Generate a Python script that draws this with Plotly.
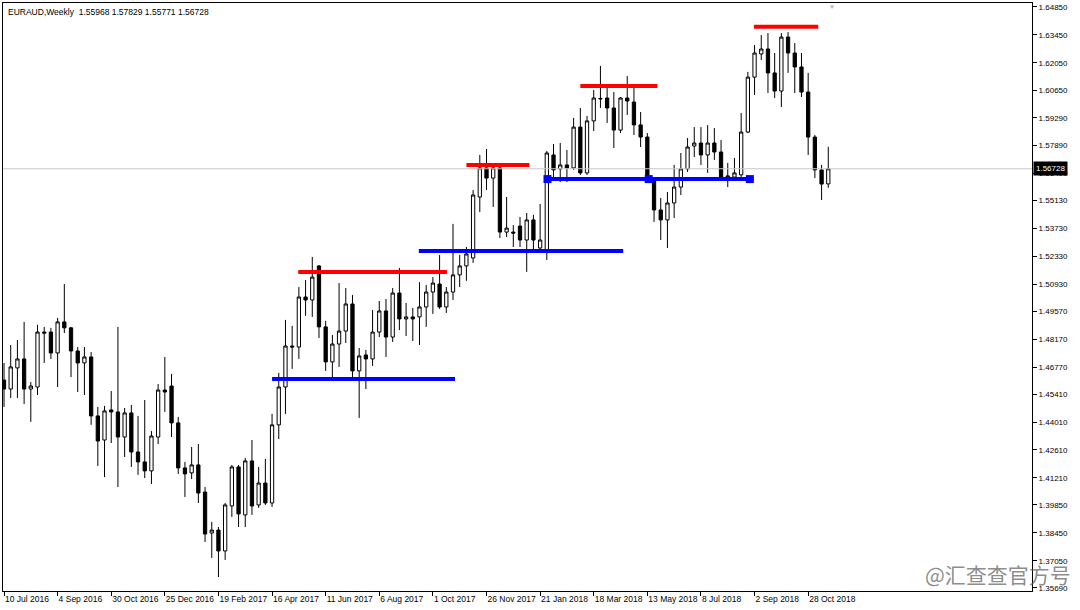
import plotly.graph_objects as go
import pandas as pd

# ---------------- data ----------------
first_week = "2016-07-10"
n_weeks = 124
week_dates = list(pd.date_range(first_week, periods=n_weeks, freq="7D"))

opens = [1.4612, 1.4567, 1.4673, 1.4718, 1.4567, 1.4577, 1.4853, 1.4853, 1.4748, 1.4904,
         1.4874, 1.4758, 1.4698, 1.4728, 1.4432, 1.4311, 1.4462, 1.4452, 1.4326, 1.4447,
         1.4251, 1.4201, 1.4156, 1.4326, 1.4562, 1.4582, 1.4397, 1.4171, 1.4146, 1.4186,
         1.4050, 1.3844, 1.3859, 1.3754, 1.3980, 1.4176, 1.3935, 1.4206, 1.3985, 1.4095,
         1.3995, 1.4387, 1.4577, 1.4783, 1.4778, 1.5029, 1.5014, 1.5185, 1.4879, 1.4703,
         1.4793, 1.4858, 1.4994, 1.4658, 1.4738, 1.4718, 1.4853, 1.4959, 1.4828, 1.5049,
         1.4919, 1.4929, 1.4929, 1.4979, 1.5054, 1.5094, 1.4979, 1.5054, 1.5140, 1.5185,
         1.5225, 1.5531, 1.5677, 1.5626, 1.5677, 1.5355, 1.5355, 1.5385, 1.5315, 1.5416,
         1.5275, 1.5265, 1.5742, 1.5672, 1.5692, 1.5677, 1.5882, 1.5652, 1.5913, 1.6026,
         1.6028, 1.5978, 1.5867, 1.6028, 1.6008, 1.5893, 1.5832, 1.5626, 1.5466, 1.5416,
         1.5501, 1.5581, 1.5672, 1.5787, 1.5802, 1.5742, 1.5802, 1.5757, 1.5631, 1.5631,
         1.5642, 1.5857, 1.6133, 1.6249, 1.6274, 1.6154, 1.6063, 1.6334, 1.6254, 1.6184,
         1.6058, 1.5832, 1.5667, 1.55968]
highs = [1.4698, 1.4788, 1.4813, 1.4904, 1.4602, 1.4889, 1.4879, 1.4874, 1.4924, 1.5094,
         1.4879, 1.4778, 1.4778, 1.4753, 1.4477, 1.4482, 1.4557, 1.4879, 1.4472, 1.4487,
         1.4432, 1.4512, 1.4356, 1.4592, 1.4728, 1.4643, 1.4427, 1.4201, 1.4276, 1.4291,
         1.4075, 1.3900, 1.3874, 1.3995, 1.4186, 1.4186, 1.4221, 1.4311, 1.4176, 1.4216,
         1.4442, 1.4648, 1.4914, 1.4884, 1.5079, 1.5114, 1.5230, 1.5190, 1.4909, 1.4838,
         1.5099, 1.5074, 1.5039, 1.4773, 1.4763, 1.4964, 1.5009, 1.5019, 1.5074, 1.5175,
         1.4999, 1.4974, 1.5104, 1.5089, 1.5129, 1.5240, 1.5079, 1.5396, 1.5240, 1.5280,
         1.5566, 1.5742, 1.5772, 1.5692, 1.5692, 1.5531, 1.5390, 1.5431, 1.5451, 1.5441,
         1.5496, 1.5762, 1.5797, 1.5802, 1.5767, 1.5928, 1.5978, 1.5938, 1.6068, 1.6189,
         1.6078, 1.6058, 1.6033, 1.6138, 1.6083, 1.5958, 1.5852, 1.5631, 1.5526, 1.5556,
         1.5692, 1.5752, 1.5827, 1.5882, 1.5882, 1.5892, 1.5877, 1.5817, 1.5702, 1.5727,
         1.5953, 1.6159, 1.6294, 1.6344, 1.6354, 1.6254, 1.6354, 1.6359, 1.6304, 1.6254,
         1.6154, 1.5842, 1.5692, 1.57829]
lows = [1.4477, 1.4522, 1.4522, 1.4492, 1.4402, 1.4537, 1.4698, 1.4718, 1.4577, 1.4848,
        1.4627, 1.4552, 1.4537, 1.4387, 1.4181, 1.4125, 1.4296, 1.4075, 1.4226, 1.4176,
        1.4136, 1.4120, 1.4090, 1.4291, 1.4452, 1.4326, 1.4141, 1.4025, 1.4115, 1.3995,
        1.3799, 1.3719, 1.3623, 1.3709, 1.3925, 1.3874, 1.3874, 1.3935, 1.3970, 1.3985,
        1.3975, 1.4316, 1.4442, 1.4668, 1.4718, 1.4934, 1.4929, 1.4823, 1.4658, 1.4622,
        1.4678, 1.4798, 1.4622, 1.4422, 1.4567, 1.4683, 1.4828, 1.4728, 1.4803, 1.4863,
        1.4833, 1.4808, 1.4788, 1.4879, 1.4944, 1.4969, 1.4949, 1.5014, 1.5079, 1.5110,
        1.5200, 1.5456, 1.5566, 1.5481, 1.5325, 1.5330, 1.5280, 1.5280, 1.5155, 1.5265,
        1.5265, 1.5215, 1.5626, 1.5606, 1.5606, 1.5667, 1.5642, 1.5642, 1.5862, 1.5978,
        1.5903, 1.5777, 1.5852, 1.5943, 1.5842, 1.5782, 1.5606, 1.5406, 1.5315, 1.5275,
        1.5426, 1.5541, 1.5657, 1.5732, 1.5692, 1.5652, 1.5717, 1.5626, 1.5581, 1.5621,
        1.5631, 1.5852, 1.6043, 1.6219, 1.6053, 1.6028, 1.5983, 1.6154, 1.6053, 1.6033,
        1.5742, 1.5626, 1.5516, 1.55771]
closes = [1.4567, 1.4678, 1.4718, 1.4567, 1.4582, 1.4853, 1.4848, 1.4748, 1.4904, 1.4874,
          1.4758, 1.4698, 1.4728, 1.4432, 1.4306, 1.4457, 1.4452, 1.4326, 1.4447, 1.4251,
          1.4201, 1.4156, 1.4331, 1.4562, 1.4552, 1.4397, 1.4171, 1.4141, 1.4186, 1.4045,
          1.3839, 1.3859, 1.3754, 1.3985, 1.4176, 1.3940, 1.4206, 1.3980, 1.4095, 1.3995,
          1.4387, 1.4577, 1.4783, 1.4778, 1.5029, 1.5014, 1.5129, 1.4879, 1.4703, 1.4793,
          1.4858, 1.4994, 1.4658, 1.4733, 1.4718, 1.4853, 1.4959, 1.4828, 1.5049, 1.4919,
          1.4929, 1.4919, 1.4979, 1.5054, 1.5099, 1.4979, 1.5054, 1.5140, 1.5185, 1.5245,
          1.5541, 1.5677, 1.5626, 1.5677, 1.5355, 1.5375, 1.5350, 1.5315, 1.5416, 1.5315,
          1.5315, 1.5752, 1.5667, 1.5692, 1.5677, 1.5882, 1.5652, 1.5913, 1.6028, 1.6024,
          1.5978, 1.5867, 1.6028, 1.6013, 1.5893, 1.5832, 1.5626, 1.5466, 1.5416, 1.5501,
          1.5581, 1.5672, 1.5782, 1.5802, 1.5742, 1.5802, 1.5757, 1.5631, 1.5636, 1.5652,
          1.5857, 1.6133, 1.6254, 1.6274, 1.6154, 1.6063, 1.6334, 1.6254, 1.6184, 1.6058,
          1.5832, 1.5667, 1.5596, 1.56728]

price_ticks = [1.64850, 1.63450, 1.62050, 1.60650, 1.59290, 1.57890, 1.56490, 1.55130,
               1.53730, 1.52330, 1.50930, 1.49570, 1.48170, 1.46770, 1.45410, 1.44010,
               1.42610, 1.41210, 1.39850, 1.38450, 1.37050, 1.35690]
date_tick_every = 8

# resistance (red) and support (blue) levels: (start week, end week, price)
resistance_levels = [(43.9, 66.1, 1.5155), (69.0, 78.4, 1.5692),
                     (86.0, 97.5, 1.6088), (111.9, 121.5, 1.6386)]
support_levels = [(40.0, 67.3, 1.4617), (61.9, 92.4, 1.5260), (81.1, 111.3, 1.5621)]
support_anchor_weeks = [81.1, 96.2, 111.3]

symbol = "EURAUD,Weekly"
last_price = closes[-1]

# ---------------- figure ----------------
x_idx = list(range(n_weeks))
fig = go.Figure()

fig.add_trace(go.Candlestick(
    x=x_idx, open=opens, high=highs, low=lows, close=closes,
    increasing=dict(line=dict(color="black", width=1), fillcolor="white"),
    decreasing=dict(line=dict(color="black", width=1), fillcolor="black"),
    whiskerwidth=0, showlegend=False, hoverinfo="skip"))

# last price line
fig.add_trace(go.Scatter(x=[-1, 160], y=[last_price, last_price], mode="lines",
                         line=dict(color="#c8c8c8", width=1), showlegend=False,
                         hoverinfo="skip"))

for (x0, x1, p) in resistance_levels:
    fig.add_trace(go.Scatter(x=[x0, x1], y=[p, p], mode="lines",
                             line=dict(color="#ff0000", width=4), showlegend=False,
                             hoverinfo="skip"))
for (x0, x1, p) in support_levels:
    fig.add_trace(go.Scatter(x=[x0, x1], y=[p, p], mode="lines",
                             line=dict(color="#0000ff", width=4), showlegend=False,
                             hoverinfo="skip"))
fig.add_trace(go.Scatter(x=support_anchor_weeks, y=[support_levels[2][2]] * 3,
                         mode="markers", marker=dict(symbol="square", size=8,
                                                     color="#0000ff"),
                         showlegend=False, hoverinfo="skip"))

tick_pos = list(range(0, n_weeks, date_tick_every))
tick_txt = [f"{week_dates[i].day} {week_dates[i].strftime('%b %Y')}" for i in tick_pos]

font_family = "Liberation Sans, Arial, sans-serif"

fig.update_layout(
    width=1080, height=610,
    margin=dict(l=3, r=48, t=3, b=19),
    paper_bgcolor="white", plot_bgcolor="white",
    font=dict(family=font_family, size=8, color="black"),
    xaxis=dict(range=[-0.15, 153.4], tickvals=tick_pos, ticktext=tick_txt,
               ticks="outside", ticklen=4, tickcolor="black", tickangle=0,
               ticklabelposition="outside right", automargin=False,
               showgrid=False, zeroline=False, showline=True, linecolor="black",
               mirror=True, rangeslider=dict(visible=False), fixedrange=True,
               tickfont=dict(size=8.5)),
    yaxis=dict(range=[1.3553, 1.6505], side="right", tickvals=price_ticks,
               ticktext=[f"{v:.5f}" for v in price_ticks], automargin=False,
               ticks="outside", ticklen=4, tickcolor="black",
               showgrid=False, zeroline=False, showline=True, linecolor="black",
               mirror=True, tickfont=dict(size=8), fixedrange=True),
)

fig.add_annotation(xref="paper", yref="paper", x=0, y=1, xanchor="left", yanchor="top",
                   xshift=3, yshift=-2, showarrow=False,
                   text=f"{symbol}  {opens[-1]:.5f} {highs[-1]:.5f} {lows[-1]:.5f} {closes[-1]:.5f}",
                   font=dict(size=8.5, color="black"))

fig.add_annotation(xref="paper", yref="y", x=1, y=last_price, xanchor="left",
                   yanchor="middle", xshift=1, showarrow=False,
                   text=f"{last_price:.5f}", bgcolor="black",
                   font=dict(size=8, color="white"), borderpad=2)

fig.add_annotation(xref="x", yref="paper", x=123.6, y=1, yanchor="top", yshift=1,
                   showarrow=False, text="▼", font=dict(size=6, color="#b0b0b0"))

fig.add_annotation(xref="paper", yref="paper", x=1.04, y=0.0, xanchor="right",
                   yanchor="bottom", showarrow=False, text="@汇查查官方号",
                   font=dict(family="Noto Sans CJK SC", size=21, color="rgba(90,90,90,0.7)"))

fig.write_html("out.html", config={"displayModeBar": False},
               post_script="document.body.style.margin='0';document.body.style.overflow='hidden';")
